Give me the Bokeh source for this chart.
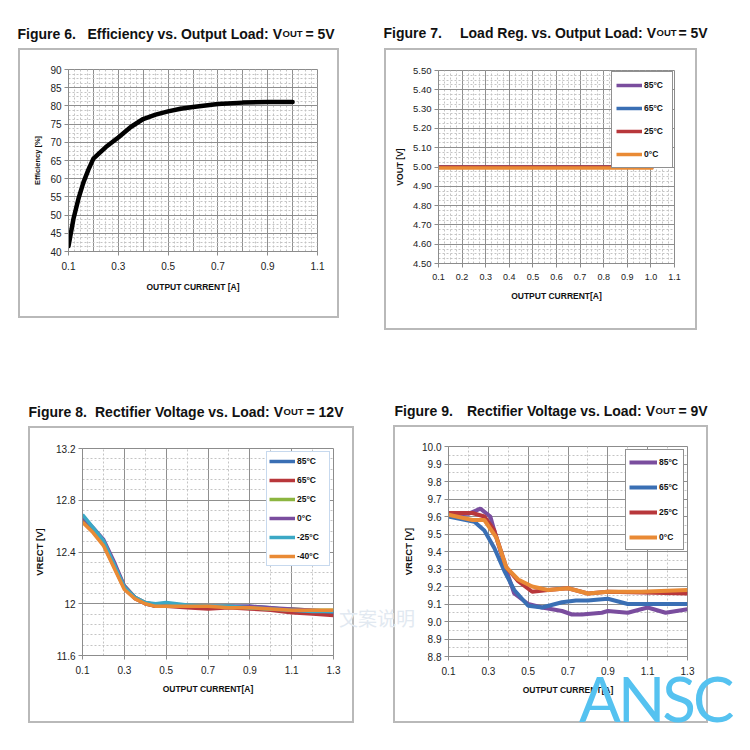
from bokeh.plotting import figure
from bokeh.models import (Range1d, FixedTicker, Legend, LegendItem, Spacer, Div,
                          CustomJSTickFormatter, PrintfTickFormatter)
from bokeh.core.properties import value
from bokeh.layouts import column, row
from bokeh.embed import file_html
from bokeh.resources import INLINE

# ---------------- data ----------------
eff_current = [0.10, 0.12, 0.14, 0.16, 0.18, 0.20, 0.25, 0.30, 0.35, 0.40, 0.45, 0.50,
               0.55, 0.60, 0.65, 0.70, 0.80, 0.90, 1.00]
eff_percent = [41.5, 49.0, 54.5, 59.0, 62.5, 65.5, 68.7, 71.3, 74.2, 76.4, 77.6, 78.5,
               79.2, 79.7, 80.1, 80.5, 80.9, 81.1, 81.1]

reg_current = [0.10, 0.40, 0.70, 1.01]
reg_labels = ["85°C", "65°C", "25°C", "0°C"]
reg_vout = {
    "85°C": [5.00, 5.00, 5.00, 5.00],
    "65°C": [5.00, 5.00, 5.00, 5.00],
    "25°C": [5.00, 5.00, 5.00, 5.00],
    "0°C":  [4.995, 4.995, 4.995, 4.995],
}

r12_current = [0.10, 0.15, 0.20, 0.25, 0.30, 0.35, 0.40, 0.45, 0.50, 0.60, 0.70, 0.80,
               0.90, 1.00, 1.10, 1.20, 1.30]
r12_labels = ["85°C", "65°C", "25°C", "0°C", "-25°C", "-40°C"]
r12_vrect = {
    "85°C":  [12.66, 12.58, 12.48, 12.31, 12.13, 12.05, 12.00, 11.98, 11.98, 11.98, 11.97, 11.98, 11.98, 11.97, 11.95, 11.94, 11.93],
    "65°C":  [12.64, 12.56, 12.46, 12.29, 12.12, 12.04, 12.00, 11.98, 11.98, 11.97, 11.96, 11.97, 11.96, 11.95, 11.93, 11.92, 11.91],
    "25°C":  [12.67, 12.58, 12.48, 12.31, 12.14, 12.05, 12.01, 11.99, 11.99, 11.98, 11.98, 11.98, 11.97, 11.96, 11.96, 11.95, 11.95],
    "0°C":   [12.67, 12.59, 12.50, 12.33, 12.14, 12.05, 12.01, 11.99, 11.98, 11.98, 11.98, 11.98, 11.98, 11.97, 11.96, 11.95, 11.94],
    "-25°C": [12.69, 12.59, 12.49, 12.31, 12.13, 12.05, 12.01, 12.00, 12.01, 11.99, 11.98, 11.98, 11.97, 11.96, 11.95, 11.94, 11.94],
    "-40°C": [12.63, 12.55, 12.45, 12.28, 12.11, 12.04, 12.00, 11.98, 11.98, 11.98, 11.98, 11.97, 11.97, 11.96, 11.95, 11.95, 11.95],
}

r9_labels = ["85°C", "65°C", "25°C", "0°C"]
r9_current = {
    "85°C": [0.10, 0.20, 0.26, 0.31, 0.34, 0.385, 0.43, 0.50, 0.57, 0.67, 0.72, 0.77, 0.87, 0.90, 1.00, 1.10, 1.19, 1.30],
    "65°C": [0.10, 0.23, 0.28, 0.33, 0.38, 0.43, 0.50, 0.57, 0.67, 0.74, 0.80, 0.90, 1.00, 1.10, 1.30],
    "25°C": [0.10, 0.22, 0.28, 0.33, 0.39, 0.45, 0.52, 0.60, 0.70, 0.80, 0.90, 1.30],
    "0°C":  [0.10, 0.22, 0.28, 0.34, 0.39, 0.45, 0.52, 0.60, 0.70, 0.80, 0.90, 1.07, 1.30],
}
r9_vrect = {
    "85°C": [9.61, 9.615, 9.645, 9.60, 9.48, 9.31, 9.16, 9.10, 9.08, 9.06, 9.04, 9.04, 9.05, 9.06, 9.05, 9.08, 9.05, 9.07],
    "65°C": [9.60, 9.57, 9.52, 9.42, 9.29, 9.18, 9.09, 9.08, 9.11, 9.12, 9.12, 9.13, 9.10, 9.10, 9.10],
    "25°C": [9.62, 9.62, 9.60, 9.52, 9.31, 9.23, 9.17, 9.18, 9.19, 9.16, 9.17, 9.16],
    "0°C":  [9.61, 9.58, 9.58, 9.48, 9.31, 9.24, 9.20, 9.18, 9.19, 9.16, 9.17, 9.17, 9.18],
}

f6_xticks = [0.1, 0.3, 0.5, 0.7, 0.9, 1.1]
f6_yticks = [40, 45, 50, 55, 60, 65, 70, 75, 80, 85, 90]
f7_xticks = [0.1, 0.2, 0.3, 0.4, 0.5, 0.6, 0.7, 0.8, 0.9, 1.0, 1.1]
f7_yticks = [4.5, 4.6, 4.7, 4.8, 4.9, 5.0, 5.1, 5.2, 5.3, 5.4, 5.5]
f8_xticks = [0.1, 0.3, 0.5, 0.7, 0.9, 1.1, 1.3]
f8_yticks = [11.6, 12.0, 12.4, 12.8, 13.2]
f9_xticks = [0.1, 0.3, 0.5, 0.7, 0.9, 1.1, 1.3]
f9_yticks = [8.8, 8.9, 9.0, 9.1, 9.2, 9.3, 9.4, 9.5, 9.6, 9.7, 9.8, 9.9, 10.0]

titles = {
    6: ("Figure 6.", "Efficiency vs. Output Load: V", "OUT", "= 5V"),
    7: ("Figure 7.", "Load Reg. vs. Output Load: V", "OUT", "= 5V"),
    8: ("Figure 8.", "Rectifier Voltage vs. Load: V", "OUT", "= 12V"),
    9: ("Figure 9.", "Rectifier Voltage vs. Load: V", "OUT", "= 9V"),
}

COL = {"purple": "#7a4d9e", "blue": "#3a6fb4", "red": "#b8373b", "orange": "#e98a35",
       "green": "#8cb540", "cyan": "#3ba8c5"}

FONT = "'Liberation Sans', Arial, sans-serif"
BW = 2  # box border width


def steps(a, b, d):
    n = int(round((b - a) / d))
    return [round(a + i * d, 4) for i in range(n + 1)]


def title_fig(W, H, x_fig, x_out, x_eq, baseline, texts):
    t = figure(width=W, height=H, x_range=Range1d(0, W), y_range=Range1d(H, 0),
               x_axis_type=None, y_axis_type=None, toolbar_location=None,
               output_backend="svg", title=None, min_border=0,
               min_border_left=0, min_border_right=0, min_border_top=0, min_border_bottom=0)
    t.outline_line_color = None
    t.background_fill_color = "white"
    t.border_fill_color = "white"
    spec = [(x_fig, "14px", "left"), (x_out - 0.5, "14px", "right"),
            (x_out, "9.5px", "left"), (x_eq, "14px", "left")]
    for (x, s, al), txt in zip(spec, texts):
        t.text(x=[x], y=[baseline], text=[txt], text_font=value(FONT),
               text_font_size=value(s), text_font_style="bold", text_color="#111111",
               text_baseline="alphabetic", text_align=al)
    return t


def box_fig(box, frame, xr, yr):
    bx0, by0, bx1, by1 = box
    fl, ft, fr, fb = frame
    cx0, cy0, cx1, cy1 = bx0 + BW, by0 + BW, bx1 - BW, by1 - BW
    p = figure(width=bx1 - bx0, height=by1 - by0, x_range=Range1d(*xr), y_range=Range1d(*yr),
               toolbar_location=None, output_backend="svg", title=None,
               min_border_left=fl - cx0, min_border_right=cx1 - fr + 2 * BW,
               min_border_top=ft - cy0, min_border_bottom=cy1 - fb + 2 * BW,
               styles={"border": f"{BW}px solid #b9b9b9"})
    p.background_fill_color = "white"
    p.border_fill_color = "white"
    p.outline_line_color = "#8c8c8c"
    for ax in (p.xaxis[0], p.yaxis[0]):
        ax.axis_line_color = "#8c8c8c"
        ax.major_tick_line_color = "#8c8c8c"
        ax.minor_tick_line_color = None
        ax.major_tick_out = 4
        ax.major_tick_in = 0
        ax.major_label_text_font = FONT
        ax.major_label_text_font_size = "10px"
        ax.major_label_text_color = "#222222"
        ax.axis_label_text_font = FONT
        ax.axis_label_text_font_style = "bold"
        ax.axis_label_text_color = "#111111"
    return p


def assemble(W, H, box, tfig, p):
    bx0, by0, bx1, by1 = box
    return column(tfig,
                  row(Spacer(width=bx0, height=by1 - by0), p),
                  Spacer(width=W, height=H - by1))


def style_grid(p, xmaj, xmin, ymaj, ymin):
    p.xgrid.ticker = FixedTicker(ticks=xmaj, minor_ticks=xmin)
    p.ygrid.ticker = FixedTicker(ticks=ymaj, minor_ticks=ymin)
    for g in (p.xgrid[0], p.ygrid[0]):
        g.grid_line_color = "#8f8f8f"
        g.grid_line_width = 1
        g.minor_grid_line_color = "#c4c4c4"
        g.minor_grid_line_dash = "2 2"
        g.minor_grid_line_width = 1


def add_legend(p, items, border_color, border_width, margin, pad, gh, spacing, gw, lw):
    lg = Legend(items=items, location="top_right", margin=margin, padding=pad,
                spacing=spacing, glyph_height=gh, label_height=gh, glyph_width=gw,
                label_width=lw, label_standoff=2, border_line_color=border_color,
                border_line_width=border_width, background_fill_color="white",
                background_fill_alpha=1.0, label_text_font=FONT,
                label_text_font_size="8.5px", label_text_font_style="bold",
                label_text_color="#111111")
    p.add_layout(lg)


# ---------------- Figure 6 ----------------
box6 = (18, 48, 339, 318)
p6 = box_fig(box6, (68, 69, 317, 251), (0.1, 1.1), (40, 90))
p6.xaxis.ticker = FixedTicker(ticks=f6_xticks, minor_ticks=[])
p6.yaxis.ticker = FixedTicker(ticks=f6_yticks, minor_ticks=[])
p6.xaxis.formatter = PrintfTickFormatter(format="%.1f")
p6.yaxis.formatter = PrintfTickFormatter(format="%d")
p6.xaxis.axis_label = "OUTPUT CURRENT [A]"
p6.yaxis.axis_label = "Efficiency [%]"
p6.xaxis.axis_label_text_font_size = "8.5px"
p6.yaxis.axis_label_text_font_size = "7.5px"
p6.xaxis.major_label_standoff = 6
p6.xaxis.axis_label_standoff = 9
p6.yaxis.major_label_standoff = 3
p6.yaxis.axis_label_standoff = 5
style_grid(p6, steps(0.1, 1.1, 0.1), steps(0.1, 1.1, 0.025), steps(40, 90, 5), steps(40, 90, 1.25))
p6.line(eff_current, eff_percent, line_color="black", line_width=4.5, line_cap="round")
t6 = title_fig(375, box6[1], 17, 282, 305, 33, titles[6])
panel6 = assemble(375, 350, box6, t6, p6)

# ---------------- Figure 7 ----------------
box7 = (9, 48, 322, 330)
p7 = box_fig(box7, (63, 70, 299, 263), (0.1, 1.1), (4.5, 5.5))
p7.xaxis.ticker = FixedTicker(ticks=f7_xticks, minor_ticks=[])
p7.yaxis.ticker = FixedTicker(ticks=f7_yticks, minor_ticks=[])
p7.xaxis.formatter = PrintfTickFormatter(format="%.1f")
p7.yaxis.formatter = PrintfTickFormatter(format="%.2f")
p7.xaxis.axis_label = "OUTPUT CURRENT[A]"
p7.yaxis.axis_label = "VOUT [V]"
p7.xaxis.major_label_text_font_size = "9px"
p7.yaxis.major_label_text_font_size = "9.5px"
p7.xaxis.axis_label_text_font_size = "8.5px"
p7.yaxis.axis_label_text_font_size = "8.5px"
p7.xaxis.major_label_standoff = 6
p7.xaxis.axis_label_standoff = 8
p7.yaxis.major_label_standoff = 3
p7.yaxis.axis_label_standoff = 5
style_grid(p7, steps(0.1, 1.1, 0.1), steps(0.1, 1.1, 0.025), steps(4.5, 5.5, 0.1), steps(4.5, 5.5, 0.025))
c7 = [COL["purple"], COL["blue"], COL["red"], COL["orange"]]
items7 = []
for lab, c in zip(reg_labels, c7):
    r = p7.line(reg_current, reg_vout[lab], line_color=c, line_width=3.5)
    items7.append(LegendItem(label=lab, renderers=[r]))
add_legend(p7, items7, "#222222", 1.5, 1, 4, 18, 5, 26, 24)
t7 = title_fig(375, box7[1], 8, 281, 303, 32, titles[7])
panel7 = assemble(375, 350, box7, t7, p7)

# ---------------- Figure 8 ----------------
box8 = (28, 76, 354, 373)
p8 = box_fig(box8, (82, 98, 333, 305), (0.1, 1.3), (11.6, 13.2))
p8.xaxis.ticker = FixedTicker(ticks=f8_xticks, minor_ticks=[])
p8.yaxis.ticker = FixedTicker(ticks=f8_yticks, minor_ticks=[])
p8.xaxis.formatter = PrintfTickFormatter(format="%.1f")
p8.yaxis.formatter = CustomJSTickFormatter(code="return Math.abs(tick - 12) < 1e-9 ? '12' : tick.toFixed(1);")
p8.xaxis.axis_label = "OUTPUT CURRENT[A]"
p8.yaxis.axis_label = "VRECT [V]"
p8.xaxis.axis_label_text_font_size = "8.5px"
p8.yaxis.axis_label_text_font_size = "9.5px"
p8.xaxis.major_label_standoff = 6
p8.xaxis.axis_label_standoff = 7
p8.yaxis.major_label_standoff = 3
p8.yaxis.axis_label_standoff = 8
style_grid(p8, steps(0.1, 1.3, 0.2), steps(0.1, 1.3, 0.1), steps(11.6, 13.2, 0.4), steps(11.6, 13.2, 0.08))
c8 = [COL["blue"], COL["red"], COL["green"], COL["purple"], COL["cyan"], COL["orange"]]
items8 = []
for lab, c in zip(r12_labels, c8):
    r = p8.line(r12_current, r12_vrect[lab], line_color=c, line_width=3.5)
    items8.append(LegendItem(label=lab, renderers=[r]))
add_legend(p8, items8, "#8fb4de", 1.2, 3, 2, 14, 5, 26, 30)
t8 = title_fig(375, box8[1], 28, 283, 306, 61, titles[8])
panel8 = assemble(375, 400, box8, t8, p8)

# ---------------- Figure 9 ----------------
box9 = (18, 75, 333, 373)
p9 = box_fig(box9, (73, 96, 312, 306), (0.1, 1.3), (8.8, 10.0))
p9.xaxis.ticker = FixedTicker(ticks=f9_xticks, minor_ticks=[])
p9.yaxis.ticker = FixedTicker(ticks=f9_yticks, minor_ticks=[])
p9.xaxis.formatter = PrintfTickFormatter(format="%.1f")
p9.yaxis.formatter = PrintfTickFormatter(format="%.1f")
p9.xaxis.axis_label = "OUTPUT CURRENT[A]"
p9.yaxis.axis_label = "VRECT [V]"
p9.xaxis.axis_label_text_font_size = "8.5px"
p9.yaxis.axis_label_text_font_size = "9.5px"
p9.xaxis.major_label_standoff = 6
p9.xaxis.axis_label_standoff = 7
p9.yaxis.major_label_standoff = 3
p9.yaxis.axis_label_standoff = 5
style_grid(p9, steps(0.1, 1.3, 0.2), steps(0.1, 1.3, 0.1), steps(8.8, 10.0, 0.1), steps(8.8, 10.0, 0.05))
c9 = [COL["purple"], COL["blue"], COL["red"], COL["orange"]]
items9 = []
for lab, c in zip(r9_labels, c9):
    r = p9.line(r9_current[lab], r9_vrect[lab], line_color=c, line_width=4)
    items9.append(LegendItem(label=lab, renderers=[r]))
add_legend(p9, items9, "#222222", 1.5, 3, 3, 18, 7, 28, 21)
t9 = title_fig(375, box9[1], 19, 280, 303, 60, titles[9])
panel9 = assemble(375, 400, box9, t9, p9)

# watermarks overlaid on the page
wm = Div(text="ANSC", styles={"position": "absolute", "left": "574px", "top": "662px",
                              "font-family": "Lato, 'Liberation Sans', sans-serif",
                              "font-size": "62px", "letter-spacing": "-3px",
                              "line-height": "1", "color": "#55c2f0",
                              "z-index": "10", "pointer-events": "none", "white-space": "nowrap"})
wm2 = Div(text="文案说明", styles={"position": "absolute", "left": "334px", "top": "603px",
                               "font-family": "'Noto Sans CJK SC', sans-serif",
                               "font-size": "19px", "line-height": "1", "color": "#e2e9f1",
                               "z-index": "9", "pointer-events": "none", "white-space": "nowrap"})

layout = column(row(panel6, panel7), row(panel8, panel9), wm, wm2)
open("out.html", "w").write(file_html(layout, INLINE))
